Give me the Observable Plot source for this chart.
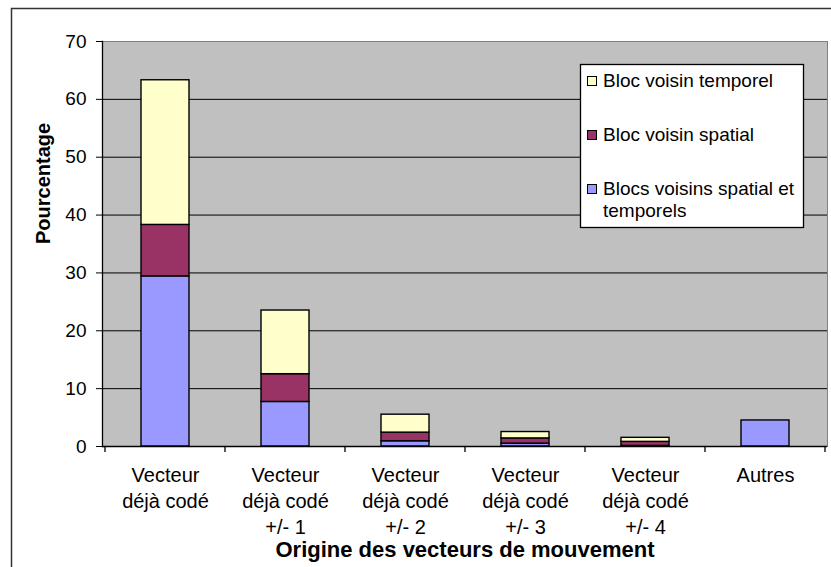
<!DOCTYPE html>
<html>
<head>
<meta charset="utf-8">
<script src="https://cdn.jsdelivr.net/npm/d3@7"></script>
<script src="https://cdn.jsdelivr.net/npm/@observablehq/plot@0.6"></script>
<style>
  body { margin: 0; background: #fff; }
  svg { display: block; }
</style>
</head>
<body>
<div id="chart"></div>
<script>
const categories = [
  "Vecteur\ndéjà codé",
  "Vecteur\ndéjà codé\n+/- 1",
  "Vecteur\ndéjà codé\n+/- 2",
  "Vecteur\ndéjà codé\n+/- 3",
  "Vecteur\ndéjà codé\n+/- 4",
  "Autres"
];
const series = ["Blocs voisins spatial et temporels", "Bloc voisin spatial", "Bloc voisin temporel"];
const blocsSpatialTemporels = [29.4, 7.7, 0.9, 0.5, 0.1, 4.5];
const blocSpatial = [8.9, 4.8, 1.5, 0.9, 0.7, 0];
const blocTemporel = [25.0, 11.0, 3.1, 1.1, 0.7, 0];
const colors = ["#9999FF", "#993366", "#FFFFCC"];
const yTicks = [0, 10, 20, 30, 40, 50, 60, 70];
const yTitle = "Pourcentage";
const xTitle = "Origine des vecteurs de mouvement";
const legendLines = [["Bloc voisin temporel"], ["Bloc voisin spatial"], ["Blocs voisins spatial et", "temporels"]];

const values = [blocsSpatialTemporels, blocSpatial, blocTemporel];
const rows = [];
categories.forEach((c, i) => {
  series.forEach((s, k) => {
    if (values[k][i] > 0) rows.push({cat: c, series: s, value: values[k][i]});
  });
});

const font = "'Liberation Sans', Arial, sans-serif";

const chart = Plot.plot({
  width: 831,
  height: 567,
  marginTop: 41,
  marginLeft: 102,
  marginRight: 4,
  marginBottom: 121,
  style: {fontFamily: font, background: "white", color: "black"},
  x: {domain: categories, paddingInner: 0.6, paddingOuter: 0.3, axis: null},
  y: {domain: [0, 70]},
  color: {domain: series, range: colors},
  marks: [
    Plot.frame({fill: "#c0c0c0", stroke: "#808080"}),
    Plot.ruleY(yTicks.filter(t => t > 0 && t < 70), {stroke: "black", strokeWidth: 1}),
    Plot.barY(rows, {x: "cat", y: "value", fill: "series", stroke: "black", strokeWidth: 1.4}),
    Plot.ruleY([0], {stroke: "black", strokeWidth: 1.3}),
    Plot.frame({anchor: "left", stroke: "black", strokeWidth: 1.3}),
    Plot.axisY({ticks: yTicks, tickSize: 6, tickPadding: 10, fontSize: 19, label: null}),
    Plot.text(categories, {x: d => d, text: d => d, frameAnchor: "bottom", lineAnchor: "top", dy: 17, fontSize: 20, lineHeight: 1.3, fill: "black"}),
    Plot.text([yTitle], {text: d => d, frameAnchor: "left", dx: -59, rotate: -90, fontSize: 20, fontWeight: "bold", fill: "black"}),
    Plot.text([xTitle], {text: d => d, frameAnchor: "bottom", dy: 110, fontSize: 22, fontWeight: "bold", fill: "black"})
  ]
});

document.getElementById("chart").appendChild(chart);

// x-axis ticks at category boundaries, from the library's band scale
const xs = chart.scale("x");
const ys = chart.scale("y");
const step = xs.step != null ? xs.step : xs.bandwidth / (1 - 0.6);
const half = (step - xs.bandwidth) / 2;
const bounds = categories.map(c => xs.apply(c) - half);
bounds.push(bounds[bounds.length - 1] + step);
const y0 = ys.apply(0);
const svg = d3.select(chart);
svg.append("g").selectAll("line").data(bounds).join("line")
  .attr("x1", d => d).attr("x2", d => d)
  .attr("y1", y0).attr("y2", y0 + 6)
  .attr("stroke", "black").attr("stroke-width", 1.3);

// outer chart border
svg.insert("rect", ":first-child")
  .attr("x", 11.5).attr("y", 8.5).attr("width", 1000).attr("height", 1000)
  .attr("fill", "none").attr("stroke", "#333").attr("stroke-width", 1.5);

// legend
const lg = svg.append("g").attr("font-family", font).attr("font-size", 19).attr("text-anchor", "start");
lg.append("rect").attr("x", 580.5).attr("y", 64.5).attr("width", 223).attr("height", 163)
  .attr("fill", "white").attr("stroke", "black").attr("stroke-width", 1.3);
const legendOrder = [2, 1, 0];
const rowTop = [76, 130, 184];
legendOrder.forEach((k, j) => {
  lg.append("rect").attr("x", 587.5).attr("y", rowTop[j] + 0.5).attr("width", 9).attr("height", 9)
    .attr("fill", colors[k]).attr("stroke", "black").attr("stroke-width", 1);
  legendLines[j].forEach((t, m) => {
    lg.append("text").attr("x", 603).attr("y", rowTop[j] + 11 + m * 22)
      .attr("fill", "black").attr("text-anchor", "start").text(t);
  });
});
</script>
</body>
</html>
